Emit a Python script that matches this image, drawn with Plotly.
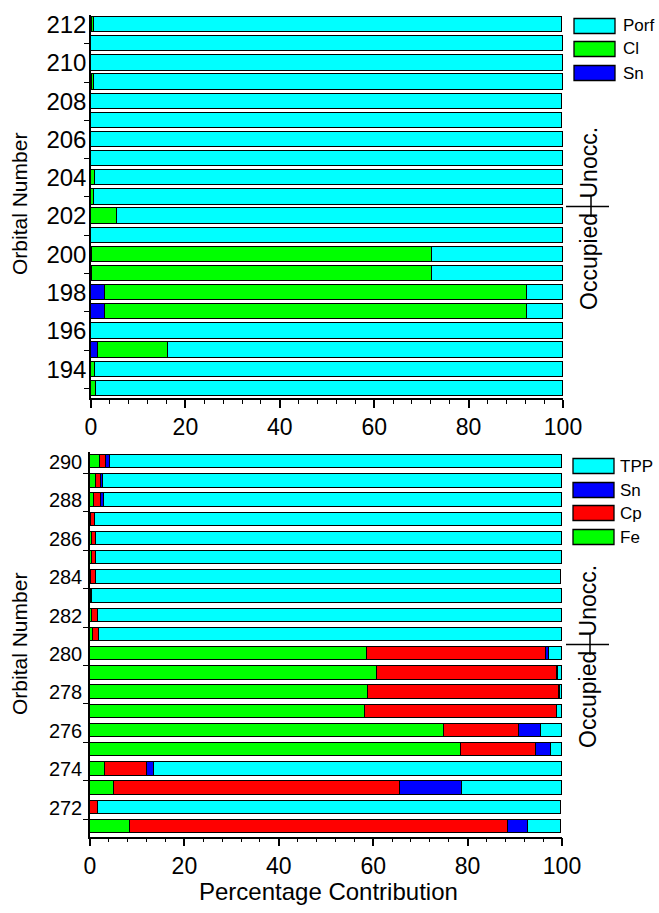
import plotly.graph_objects as go

W, H = 659, 913

# ---------------- data ----------------
orb_top = list(range(193, 213))
sn_top = [0, 0, 1.5, 0, 2.9, 2.9, 0.3, 0.3, 0, 0, 0, 0, 0, 0, 0, 0, 0.3, 0, 0, 0.3]
cl_top = [1.0, 0.9, 14.9, 0, 89.4, 89.4, 71.9, 71.9, 0, 5.5, 0.7, 0.8, 0, 0, 0, 0, 0.4, 0, 0, 0.3]
tot_top = [100, 100, 100, 100, 100, 100, 100, 100, 100, 100, 100, 100, 100, 100, 99.8, 99.8, 100, 100, 100, 99.8]
porf_top = [round(t - s - c, 2) for t, s, c in zip(tot_top, sn_top, cl_top)]

orb_bot = list(range(271, 291))
fe_bot = [8.5, 0, 5.1, 3.2, 78.7, 74.9, 58.2, 59.0, 60.7, 58.7, 0.6, 0.5, 0.2, 0.3, 0.5, 0.5, 0.3, 0.8, 1.2, 2.1]
cp_bot = [80.1, 1.6, 60.6, 8.8, 15.7, 15.9, 40.7, 40.3, 38.2, 37.9, 1.2, 1.1, 0.3, 0.9, 0.8, 0.8, 0.8, 1.5, 1.1, 1.3]
sn_bot = [4.1, 0, 13.1, 1.6, 3.3, 4.8, 0.1, 0.3, 0.2, 0.7, 0, 0, 0, 0, 0, 0, 0, 0.6, 0.5, 0.9]
tot_bot = [99.8, 99.8, 100, 100, 100, 100, 100, 100, 100, 100, 100, 100, 100, 99.8, 100, 100, 100, 100, 100, 100]
tpp_bot = [round(t - a - b - c, 2) for t, a, b, c in zip(tot_bot, fe_bot, cp_bot, sn_bot)]

top_ticks = list(range(194, 213, 2))
bot_ticks = list(range(272, 291, 2))
x_ticks = [0, 20, 40, 60, 80, 100]

CYAN, GREEN, BLUE, RED = "#00FFFF", "#00FF00", "#0000FF", "#FF0000"
FONT = "Liberation Sans, Arial, sans-serif"

fig = go.Figure()

def add_bar(x, y, color, name, xa, ya, width):
    fig.add_trace(go.Bar(x=x, y=y, orientation="h", name=name, width=width,
                         marker=dict(color=color, line=dict(color="black", width=1.3)),
                         xaxis=xa, yaxis=ya, showlegend=False))

add_bar(sn_top, orb_top, BLUE, "Sn", "x", "y", 0.8)
add_bar(cl_top, orb_top, GREEN, "Cl", "x", "y", 0.8)
add_bar(porf_top, orb_top, CYAN, "Porf", "x", "y", 0.8)

add_bar(fe_bot, orb_bot, GREEN, "Fe", "x2", "y2", 0.7)
add_bar(cp_bot, orb_bot, RED, "Cp", "x2", "y2", 0.7)
add_bar(sn_bot, orb_bot, BLUE, "Sn", "x2", "y2", 0.7)
add_bar(tpp_bot, orb_bot, CYAN, "TPP", "x2", "y2", 0.7)

def px(x):
    return x / W

def py(y):
    return 1 - y / H

def xaxis(domain, anchor):
    return dict(domain=domain, anchor=anchor, range=[0, 100], tickvals=x_ticks,
                ticks="outside", ticklen=8, tickwidth=1.5, tickcolor="black",
                minor=dict(dtick=4, tick0=0, ticks="outside", ticklen=4, tickwidth=1.3, tickcolor="black"),
                showline=True, linecolor="black", linewidth=1.5, showgrid=False, zeroline=False,
                tickfont=dict(size=23, color="black", family=FONT), automargin=False)

def yaxis(domain, anchor, rng, ticks, minor_vals, size, standoff):
    return dict(domain=domain, anchor=anchor, range=rng, tickmode="array", tickvals=ticks,
                ticktext=[str(t) for t in ticks], ticks="", ticklen=0, ticklabelstandoff=standoff,
                minor=dict(tickmode="array", tickvals=minor_vals, ticks="outside", ticklen=5,
                           tickwidth=1.3, tickcolor="black"),
                showline=True, linecolor="black", linewidth=1.5, showgrid=False, zeroline=False,
                tickfont=dict(size=size, color="black", family=FONT), automargin=False)

fig.update_layout(
    width=W, height=H, margin=dict(l=0, r=0, t=0, b=0),
    paper_bgcolor="white", plot_bgcolor="white", barmode="stack", bargap=0,
    showlegend=False, font=dict(family=FONT, color="black"),
    xaxis=xaxis([px(91), px(563)], "y"),
    yaxis=yaxis([py(398), py(15)], "x", [192.5, 212.5], top_ticks, list(range(193, 213, 2)), 24, -2),
    xaxis2=xaxis([px(90), px(562)], "y2"),
    yaxis2=yaxis([py(836.5), py(452.4)], "x2", [270.5, 290.5], bot_ticks,
                 [v + 0.4 for v in range(271, 291, 2)], 20, 2),
)

shapes = []
annotations = []

# custom legends
def legend(items, x0, x1, tx, ys, h):
    for (label, color), y in zip(items, ys):
        shapes.append(dict(type="rect", xref="paper", yref="paper", x0=px(x0), x1=px(x1),
                           y0=py(y + h / 2), y1=py(y - h / 2), fillcolor=color,
                           line=dict(color="black", width=1.3)))
        annotations.append(dict(xref="paper", yref="paper", x=px(tx), y=py(y), text=label,
                                showarrow=False, xanchor="left", yanchor="middle",
                                font=dict(size=17, color="black", family=FONT)))

legend([("Porf", CYAN), ("Cl", GREEN), ("Sn", BLUE)], 574, 615, 621, [26, 49, 73], 15)
legend([("TPP", CYAN), ("Sn", BLUE), ("Cp", RED), ("Fe", GREEN)], 573, 614, 618, [466, 490, 513, 537], 15)

# occupied / unoccupied markers
def occ(yref, yval, xc):
    shapes.append(dict(type="line", xref="paper", yref=yref, x0=px(566), x1=px(609),
                       y0=yval, y1=yval, line=dict(color="black", width=1.5)))
    shapes.append(dict(type="line", xref="paper", yref=yref, x0=px(xc + 2), x1=px(xc + 2),
                       y0=yval - 0.55, y1=yval + 0.55, line=dict(color="black", width=1.5)))
    annotations.append(dict(xref="paper", yref=yref, x=px(xc), y=yval, text="Unocc.",
                            textangle=-90, showarrow=False, xanchor="center", yanchor="bottom",
                            yshift=6, font=dict(size=23, color="black", family=FONT)))
    annotations.append(dict(xref="paper", yref=yref, x=px(xc), y=yval, text="Occupied",
                            textangle=-90, showarrow=False, xanchor="center", yanchor="top",
                            yshift=-5, font=dict(size=23, color="black", family=FONT)))

occ("y", 202.5, 589)
occ("y2", 280.5, 588)

# axis titles
for yc in [204, 644]:
    annotations.append(dict(xref="paper", yref="paper", x=px(19), y=py(yc), text="Orbital Number",
                            textangle=-90, showarrow=False, xanchor="center", yanchor="middle",
                            font=dict(size=21, color="black", family=FONT)))
annotations.append(dict(xref="paper", yref="paper", x=px(328), y=py(891), text="Percentage Contribution",
                        showarrow=False, xanchor="center", yanchor="middle",
                        font=dict(size=24, color="black", family=FONT)))

fig.update_layout(shapes=shapes, annotations=annotations)
fig.write_html("out.html")
